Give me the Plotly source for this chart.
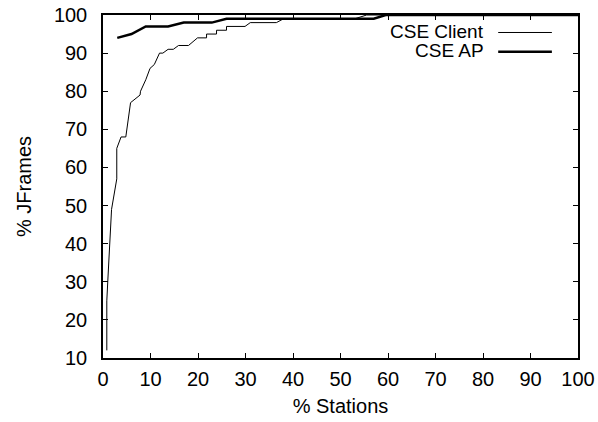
import plotly.graph_objects as go

# Data
client_name = "CSE Client"
client_x = [0.8, 0.8, 1.0, 1.8, 2.9, 2.9, 3.8, 4.8, 5.8, 7.8, 7.9, 9.0, 9.9, 10.8, 11.9, 12.6,
            13.7, 14.8, 15.9, 18.0, 19.9, 21.8, 21.8, 23.9, 23.9, 26.0, 26.0, 29.9, 31.0,
            36.5, 38.0, 53.0, 55.5, 100]
client_y = [12, 25, 30, 49, 57, 65, 68, 68, 77, 79, 80, 83, 86, 87, 90, 90,
            91, 91, 92, 92, 94, 94, 95, 95, 96, 96, 97, 97, 98,
            98, 99, 99, 100, 100]

ap_name = "CSE AP"
ap_x = [3, 6, 9, 13.7, 17, 22.9, 26, 57, 59.5, 100]
ap_y = [94, 95, 97, 97, 98, 98, 99, 99, 100, 100]

x_ticks = list(range(0, 101, 10))
y_ticks = list(range(10, 101, 10))

FONT = "Liberation Sans, Arial, Helvetica, sans-serif"
FS = 20

fig = go.Figure()
fig.add_trace(go.Scatter(x=client_x, y=client_y, mode="lines", name=client_name,
                         line=dict(color="black", width=1), showlegend=False))
fig.add_trace(go.Scatter(x=ap_x, y=ap_y, mode="lines", name=ap_name,
                         line=dict(color="black", width=2.5), showlegend=False))

# gnuplot-style key: text right-aligned, sample line to the right
key_entries = [(client_name, 1, 0.953), (ap_name, 2.5, 0.897)]
for name, w, yk in key_entries:
    fig.add_annotation(x=0.806, y=yk, xref="paper", yref="paper", text=name,
                       showarrow=False, xanchor="right", yanchor="middle",
                       font=dict(family=FONT, size=FS - 1, color="black"))
    fig.add_shape(type="line", xref="paper", yref="paper", x0=0.832, x1=0.945,
                  y0=yk - 0.004, y1=yk - 0.004, line=dict(color="black", width=w))

axis_common = dict(showgrid=False, zeroline=False, showline=True, mirror="ticks",
                   linecolor="black", linewidth=1.5, ticks="inside", ticklen=5,
                   tickcolor="black", tickwidth=1, automargin=False,
                   tickfont=dict(family=FONT, size=FS, color="black"))

fig.update_xaxes(range=[0, 100], tickvals=x_ticks, ticktext=[str(v) for v in x_ticks],
                 ticklabelstandoff=2,
                 title=dict(text="% Stations", font=dict(family=FONT, size=FS, color="black"),
                            standoff=10),
                 **axis_common)
fig.update_yaxes(range=[10, 100], tickvals=y_ticks, ticktext=[str(v) for v in y_ticks],
                 ticklabelstandoff=10,
                 title=dict(text="% JFrames", font=dict(family=FONT, size=FS, color="black"),
                            standoff=17),
                 **axis_common)

fig.update_layout(width=598, height=422, margin=dict(l=103, r=20, t=15, b=64),
                  plot_bgcolor="white", paper_bgcolor="white",
                  font=dict(family=FONT, size=FS, color="black"))

fig.write_html("out.html", config={"displayModeBar": False},
               post_script="document.body.style.margin='0';document.body.style.overflow='hidden';")
